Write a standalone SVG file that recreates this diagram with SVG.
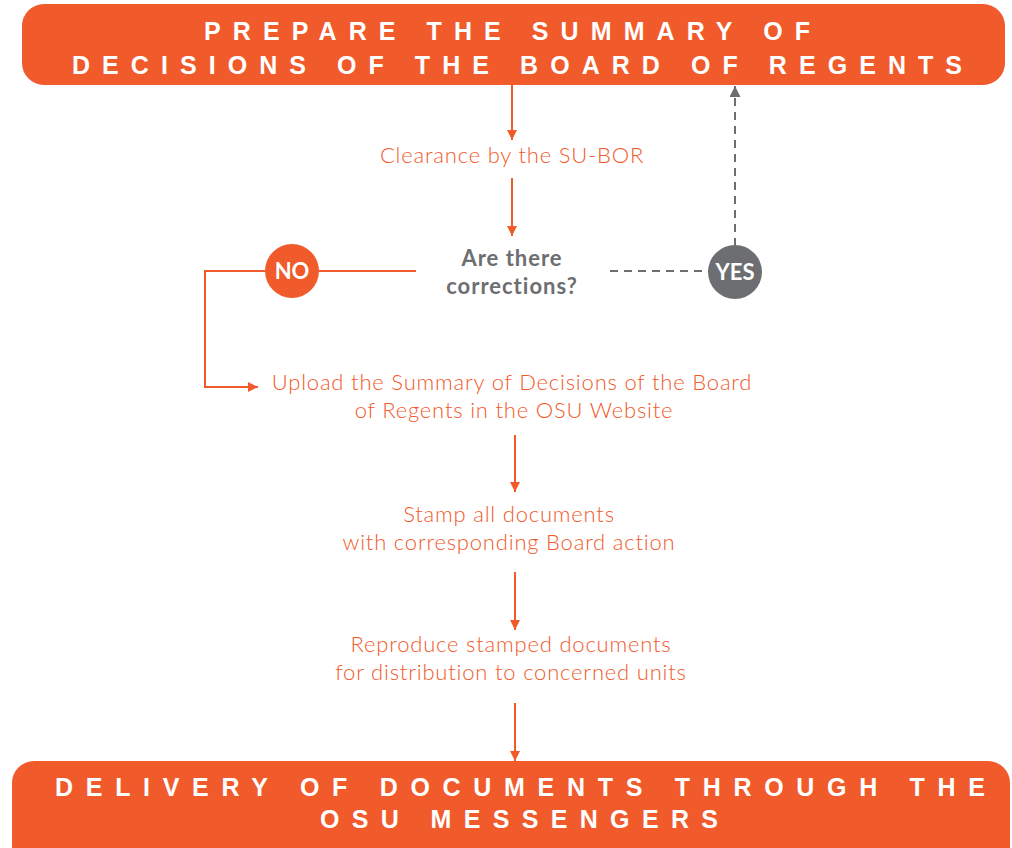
<svg xmlns="http://www.w3.org/2000/svg" width="1012" height="848" viewBox="0 0 1012 848">
<style>
.box{fill:#f15a2b}
.title{font-family:"Liberation Sans",Arial,sans-serif;font-weight:bold;font-size:25px;fill:#fff;text-anchor:middle}
.step{font-family:Lato,"Liberation Sans",sans-serif;font-weight:300;font-size:22px;letter-spacing:0.8px;fill:#f15a2b;text-anchor:middle}
.q{font-family:Lato,"Liberation Sans",sans-serif;font-weight:bold;font-size:22px;letter-spacing:1px;fill:#6d6e71;text-anchor:middle}
.badge{font-family:Lato,"Liberation Sans",sans-serif;font-weight:bold;font-size:22px;fill:#fff;text-anchor:middle}
.ol{stroke:#f15a2b;stroke-width:2;fill:none}
.gl{stroke:#6d6e71;stroke-width:2;fill:none;stroke-dasharray:8 6}
</style>
<defs>
<marker id="ao" viewBox="0 0 10 10" refX="10" refY="5" markerWidth="10" markerHeight="10" markerUnits="userSpaceOnUse" orient="auto"><path d="M0,0 L10,5 L0,10 Z" fill="#f15a2b"/></marker>
<marker id="ag" viewBox="0 0 10 10" refX="10" refY="5" markerWidth="11" markerHeight="11" markerUnits="userSpaceOnUse" orient="auto"><path d="M0,0 L10,5 L0,10 Z" fill="#6d6e71"/></marker>
</defs>
<g id="connectors">
<line class="ol" x1="512" y1="84" x2="512" y2="140" marker-end="url(#ao)"/>
<line class="ol" x1="512" y1="178" x2="512" y2="236" marker-end="url(#ao)"/>
<polyline class="ol" points="416,271 205,271 205,387 258,387" marker-end="url(#ao)"/>
<line class="gl" x1="610" y1="271" x2="710" y2="271"/>
<line class="gl" x1="735" y1="246" x2="735" y2="86" marker-end="url(#ag)"/>
<line class="ol" x1="515" y1="435" x2="515" y2="492" marker-end="url(#ao)"/>
<line class="ol" x1="515" y1="572" x2="515" y2="630" marker-end="url(#ao)"/>
<line class="ol" x1="515" y1="703" x2="515" y2="761" marker-end="url(#ao)"/>
</g>
<g id="start">
<rect class="box" x="22" y="4" width="983" height="81" rx="22"/>
<text class="title" x="507" y="40" textLength="606" lengthAdjust="spacing">PREPARE THE SUMMARY OF</text>
<text class="title" x="517" y="74" textLength="890" lengthAdjust="spacing">DECISIONS OF THE BOARD OF REGENTS</text>
</g>
<g id="clearance">
<text class="step" x="512" y="163">Clearance by the SU-BOR</text>
</g>
<g id="decision">
<text class="q" x="512" y="266">Are there</text>
<text class="q" x="512" y="294">corrections?</text>
</g>
<g id="no">
<circle cx="292" cy="271" r="27" fill="#f15a2b"/>
<text class="badge" x="292" y="279">NO</text>
</g>
<g id="yes">
<circle cx="735" cy="272" r="27" fill="#6d6e71"/>
<text class="badge" x="735" y="280">YES</text>
</g>
<g id="upload">
<text class="step" x="512" y="390">Upload the Summary of Decisions of the Board</text>
<text class="step" x="514" y="418">of Regents in the OSU Website</text>
</g>
<g id="stamp">
<text class="step" x="509" y="522">Stamp all documents</text>
<text class="step" x="509" y="550">with corresponding Board action</text>
</g>
<g id="reproduce">
<text class="step" x="511" y="652">Reproduce stamped documents</text>
<text class="step" x="511" y="680">for distribution to concerned units</text>
</g>
<g id="end">
<rect class="box" x="12" y="761" width="998" height="110" rx="22"/>
<text class="title" x="520" y="796" textLength="930" lengthAdjust="spacing">DELIVERY OF DOCUMENTS THROUGH THE</text>
<text class="title" x="519" y="828" textLength="398" lengthAdjust="spacing">OSU MESSENGERS</text>
</g>
</svg>
